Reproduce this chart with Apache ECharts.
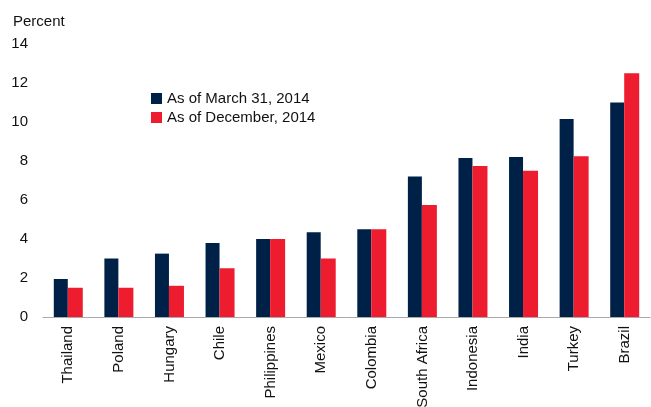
<!DOCTYPE html>
<html>
<head>
<meta charset="utf-8">
<script src="https://cdn.jsdelivr.net/npm/echarts@6/dist/echarts.min.js"></script>
<style>
  html, body { margin: 0; padding: 0; background: #fff; }
  #chart { width: 651px; height: 407px; }
</style>
</head>
<body>
<div id="chart"></div>
<script>
var countries = ['Thailand', 'Poland', 'Hungary', 'Chile', 'Philippines', 'Mexico',
  'Colombia', 'South Africa', 'Indonesia', 'India', 'Turkey', 'Brazil'];
var march2014 = [1.95, 3.0, 3.25, 3.8, 4.0, 4.35, 4.5, 7.2, 8.15, 8.2, 10.15, 11.0];
var december2014 = [1.5, 1.5, 1.6, 2.5, 4.0, 3.0, 4.5, 5.75, 7.75, 7.5, 8.25, 12.5];

var font = 'Liberation Sans, Arial, sans-serif';
var chart = echarts.init(document.getElementById('chart'));

chart.setOption({
    backgroundColor: '#fff',
    animation: false,
    textStyle: { fontFamily: font },
    title: {
        text: 'Percent',
        left: 8,
        top: 9,
        textStyle: { fontFamily: font, fontSize: 15, fontWeight: 'normal', color: '#111' }
    },
    legend: {
        orient: 'vertical',
        left: 146,
        top: 86,
        itemWidth: 11,
        itemHeight: 11,
        itemGap: 4,
        icon: 'rect',
        textStyle: { fontFamily: font, fontSize: 15, color: '#111' },
        data: ['As of March 31, 2014', 'As of December, 2014']
    },
    grid: { left: 43, right: 1, top: 44, bottom: 90, containLabel: false, outerBoundsMode: 'none' },
    xAxis: {
        type: 'category',
        data: countries,
        axisLine: { lineStyle: { color: '#aaa', width: 1 } },
        axisTick: { show: false },
        axisLabel: {
            interval: 0,
            rotate: 90,
            margin: 9,
            fontFamily: font,
            fontSize: 15,
            color: '#111'
        }
    },
    yAxis: {
        type: 'value',
        min: 0,
        max: 14,
        interval: 2,
        splitLine: { show: false },
        axisLine: { show: false },
        axisTick: { show: false },
        axisLabel: { margin: 15, fontFamily: font, fontSize: 15, color: '#111' }
    },
    series: [{
        name: 'As of March 31, 2014',
        type: 'bar',
        data: march2014,
        barWidth: 14,
        barGap: '0%',
        itemStyle: { color: '#002147' }
    }, {
        name: 'As of December, 2014',
        type: 'bar',
        data: december2014,
        barWidth: 15,
        itemStyle: { color: '#ED1C2E' }
    }]
});
</script>
</body>
</html>
